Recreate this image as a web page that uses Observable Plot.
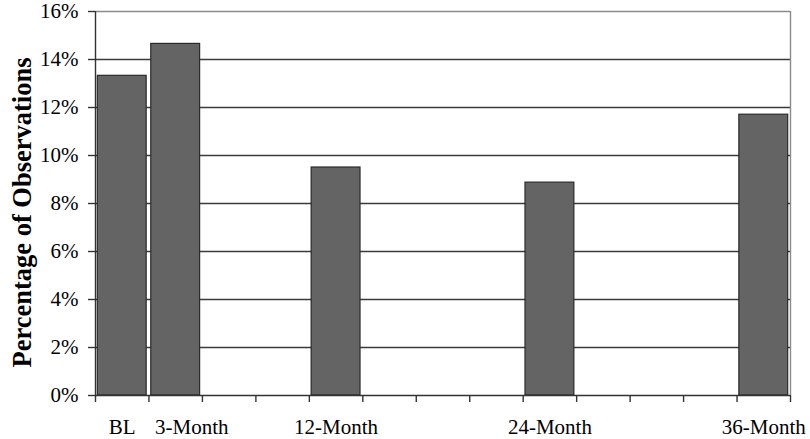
<!DOCTYPE html>
<html>
<head>
<meta charset="utf-8">
<script src="https://cdn.jsdelivr.net/npm/d3@7"></script>
<script src="https://cdn.jsdelivr.net/npm/@observablehq/plot@0.6"></script>
<style>
  html, body { margin: 0; padding: 0; background: #fff; }
  svg { font-family: "Liberation Serif", "Times New Roman", serif; }
</style>
</head>
<body>
<div id="chart"></div>
<script>
const categories = ["BL","3-Month","6-Month","9-Month","12-Month","15-Month","18-Month","21-Month","24-Month","27-Month","30-Month","33-Month","36-Month"];
const values = [13.32, 14.65, null, null, 9.5, null, null, null, 8.87, null, null, null, 11.7];
const shownLabels = ["BL","3-Month","12-Month","24-Month","36-Month"];
const yTicks = [0, 2, 4, 6, 8, 10, 12, 14, 16];
const yLabel = "Percentage of Observations";

const rows = categories.map((c, i) => ({c, i, v: values[i]})).filter(d => d.v != null);
const labelRows = categories.map((c, i) => ({c, i})).filter(d => shownLabels.includes(d.c));
const n = categories.length;

const chart = Plot.plot({
  width: 810,
  height: 439,
  marginLeft: 95,
  marginRight: 20,
  marginTop: 11,
  marginBottom: 44,
  style: {fontFamily: "'Liberation Serif', 'Times New Roman', serif", fontSize: "21px", color: "#000", background: "#fff"},
  x: {domain: [0, n], axis: null},
  y: {domain: [0, 16], axis: null},
  marks: [
    Plot.ruleY(yTicks.filter(t => t > 0 && t < 16), {stroke: "#3a3a3a", strokeWidth: 1.4}),
    Plot.ruleY([16], {stroke: "#8a8a8a", strokeWidth: 1.4}),
    Plot.ruleX([n], {stroke: "#8a8a8a", strokeWidth: 1.4}),
    Plot.rectY(rows, {x1: d => d.i, x2: d => d.i + 1, y: "v", insetLeft: 2.3, insetRight: 2.3, fill: "#646464", stroke: "#2a2a2a", strokeWidth: 1.2}),
    Plot.ruleX([0], {stroke: "#333", strokeWidth: 1.4}),
    Plot.ruleY([0], {stroke: "#333", strokeWidth: 1.4}),
    Plot.axisY({ticks: yTicks, tickFormat: d => d + "%", tickSize: 7, tickPadding: 10, stroke: "#333", strokeWidth: 1.4, fontSize: 21, label: null}),
    Plot.axisX({ticks: d3.range(0, n + 1), tickFormat: () => "", tickSize: 7, stroke: "#333", strokeWidth: 1.4, label: null}),
    Plot.text(labelRows, {x: d => d.i + 0.5 + (d.c === "3-Month" ? 0.3 : 0), y: 0, text: "c", dy: 32, fontSize: 21, fill: "#000"}),
    Plot.text([yLabel], {frameAnchor: "left", textAnchor: "middle", lineAnchor: "middle", rotate: -90, dx: -73, dy: 9, fontWeight: "bold", fontSize: 26.5, fill: "#000"})
  ]
});
document.getElementById("chart").appendChild(chart);
</script>
</body>
</html>
